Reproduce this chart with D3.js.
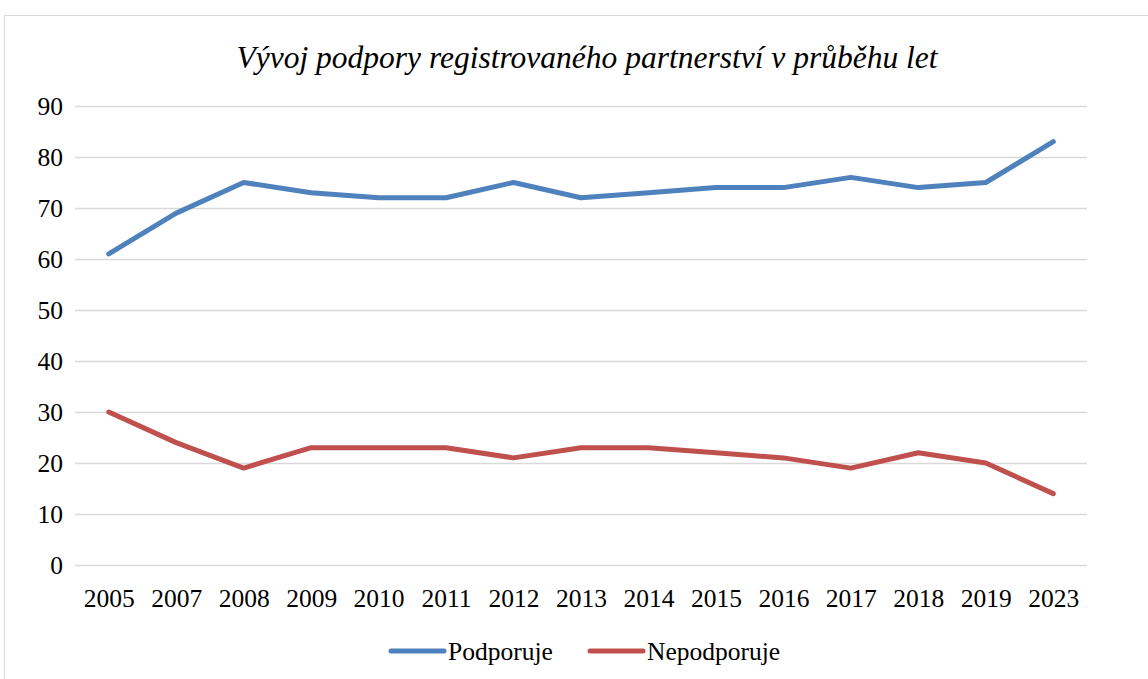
<!DOCTYPE html>
<html>
<head>
<meta charset="utf-8">
<script src="https://cdn.jsdelivr.net/npm/d3@7"></script>
<style>
  body { margin: 0; background: #fff; }
  svg text { font-family: "Liberation Serif", "Times New Roman", serif; fill: #000; }
</style>
</head>
<body>
<svg id="chart" width="1148" height="679"></svg>
<script>
var years = ["2005", "2007", "2008", "2009", "2010", "2011", "2012", "2013", "2014", "2015", "2016", "2017", "2018", "2019", "2023"];
var podporuje = [61, 69, 75, 73, 72, 72, 75, 72, 73, 74, 74, 76, 74, 75, 83];
var nepodporuje = [30, 24, 19, 23, 23, 23, 21, 23, 23, 22, 21, 19, 22, 20, 14];
var yTicks = [0, 10, 20, 30, 40, 50, 60, 70, 80, 90];
var seriesNames = ["Podporuje", "Nepodporuje"];
var seriesColors = ["#4F81BD", "#C0504D"];

var svg = d3.select("#chart");
var margin = {top: 106, right: 61, bottom: 114, left: 75};
var width = 1148, height = 679;

// chart area border
svg.append("rect")
    .attr("x", 4.5).attr("y", 15.5)
    .attr("width", 1160).attr("height", 700)
    .attr("fill", "none")
    .attr("stroke", "#d9d9d9");

svg.append("text")
    .attr("x", 587).attr("y", 68)
    .attr("text-anchor", "middle")
    .style("font-style", "italic")
    .style("font-size", "31.5px")
    .text("Vývoj podpory registrovaného partnerství v průběhu let");

var xScale = d3.scalePoint()
    .domain(years)
    .range([margin.left, width - margin.right])
    .padding(0.5);

var yScale = d3.scaleLinear()
    .domain([0, 90])
    .range([height - margin.bottom, margin.top]);

// gridlines
svg.append("g")
    .selectAll("line")
    .data(yTicks)
    .enter()
    .append("line")
    .attr("x1", margin.left).attr("x2", width - margin.right)
    .attr("y1", function(d) { return yScale(d) + 0.5; })
    .attr("y2", function(d) { return yScale(d) + 0.5; })
    .attr("stroke", "#d9d9d9")
    .attr("stroke-width", 1.5);

var yAxis = d3.axisLeft(yScale).tickValues(yTicks).tickSize(0).tickPadding(0);
var gy = svg.append("g")
    .attr("transform", "translate(63,0)")
    .call(yAxis);
gy.select(".domain").remove();
gy.selectAll("text")
    .style("font-size", "25.5px")
    .attr("dy", "0.35em");

var xAxis = d3.axisBottom(xScale).tickSize(0).tickPadding(0);
var gx = svg.append("g")
    .attr("transform", "translate(0," + (height - margin.bottom + 33) + ")")
    .call(xAxis);
gx.select(".domain").remove();
gx.selectAll("text")
    .style("font-size", "25.5px")
    .attr("dy", "0.35em");

var line = d3.line()
    .x(function(d, i) { return xScale(years[i]); })
    .y(function(d) { return yScale(d); });

[podporuje, nepodporuje].forEach(function(values, k) {
    svg.append("path")
        .datum(values)
        .attr("d", line)
        .attr("fill", "none")
        .attr("stroke", seriesColors[k])
        .attr("stroke-width", 5)
        .attr("stroke-linecap", "round")
        .attr("stroke-linejoin", "round");
});

// legend
var legendX = [391, 590];
var legend = svg.append("g");
seriesNames.forEach(function(name, k) {
    legend.append("line")
        .attr("x1", legendX[k]).attr("x2", legendX[k] + 53)
        .attr("y1", 651).attr("y2", 651)
        .attr("stroke", seriesColors[k])
        .attr("stroke-width", 5)
        .attr("stroke-linecap", "round");
    legend.append("text")
        .attr("x", legendX[k] + 57).attr("y", 651)
        .attr("dy", "0.35em")
        .style("font-size", "25.5px")
        .text(name);
});
</script>
</body>
</html>
